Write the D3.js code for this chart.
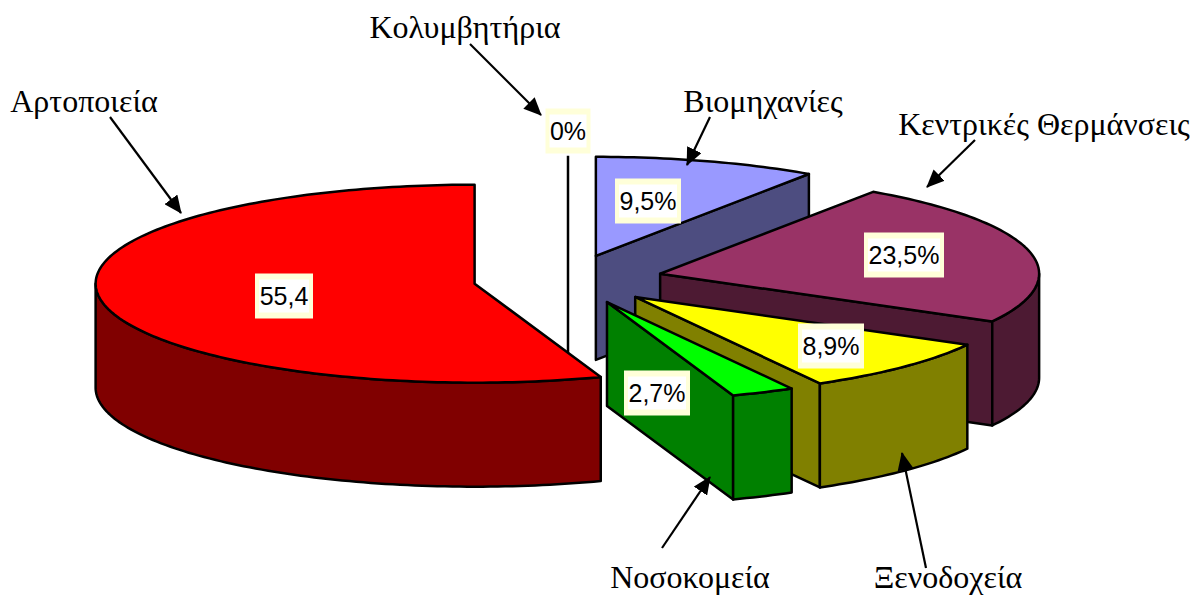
<!DOCTYPE html>
<html><head><meta charset="utf-8">
<script src="https://cdnjs.cloudflare.com/ajax/libs/d3/7.8.5/d3.min.js"></script>
<style>html,body{margin:0;padding:0;background:#fff}svg{display:block}</style>
</head><body><svg id="c" width="1200" height="595"></svg>
<script>
// Data, clockwise from 12 o'clock
const categories = ["Κολυμβητήρια","Βιομηχανίες","Κεντρικές Θερμάνσεις","Ξενοδοχεία","Νοσοκομεία","Αρτοποιεία"];
const values = [0, 9.5, 23.5, 8.9, 2.7, 55.4];
const valueLabels = ["0%","9,5%","23,5%","8,9%","2,7%","55,4"];
const topColors = ["#000000","#9999FF","#993366","#FFFF00","#00FF00","#FF0000"];
const sideColors = ["#000000","#4D4D80","#4D1A33","#808000","#008000","#800000"];

// Layout
const cx = 568, cy = 279.5, rx = 379, ry = 99, depth = 104, explode = 0.25;
const angleTotal = 99.8;
const labelBoxes = [[568,131,45],[648,201,66],[904,255,80],[831,346,66],[657,393,66],[284,296,58]];
const nameAnchors = [[465,38],[763,112],[1044,135],[948,587.5],[690,587.5],[84,112]];
const arrows = [[470,44,541,115],[710,117,687,165],[975,140,927,187],[926,568,902,453],[662,548,710,477],[110,117,181,213]];

const svg = d3.select("#c");
const defs = svg.append("defs");
defs.append("marker").attr("id","ah").attr("markerUnits","userSpaceOnUse")
  .attr("viewBox","0 0 18 16").attr("refX",17).attr("refY",8)
  .attr("markerWidth",18).attr("markerHeight",16).attr("orient","auto")
  .append("path").attr("d","M0,0L18,8L0,16Z").attr("fill","#000");

// The printed shares add up to 99.5; the last slice closes the circle, as in the original.
const sum = d3.sum(values);
const pie = d3.pie().sort(null).value(d => d).startAngle(0).endAngle(2*Math.PI*sum/angleTotal);
const arcs = pie(values);
arcs[arcs.length-1].endAngle = 2*Math.PI;
const sx = d3.scaleLinear().domain([-1,1]).range([-rx,rx]);
const sy = d3.scaleLinear().domain([-1,1]).range([-ry,ry]);
const line = d3.line();
const HALF = Math.PI/2;

function pt(a, ox, oy, dz=0){ return [ox + sx(Math.sin(a)), oy - sy(Math.cos(a)) + dz]; }
function arcPts(a0,a1,ox,oy,dz=0){
  const n = Math.max(2, Math.ceil(Math.abs(a1-a0)/0.02));
  return d3.range(n+1).map(i => pt(a0+(a1-a0)*i/n, ox, oy, dz));
}

const g = svg.append("g").attr("stroke","#000").attr("stroke-width",2.5).attr("stroke-linejoin","round");

arcs.forEach((d,i) => {
  const mid = (d.startAngle+d.endAngle)/2;
  const ox = cx + sx(Math.sin(mid))*explode;
  const oy = cy - sy(Math.cos(mid))*explode;
  const a0 = d.startAngle, a1 = d.endAngle;
  if (d.value === 0) {
    g.append("path").attr("d", line([pt(a0,ox,oy), [ox,oy+depth]])).attr("fill","none");
    return;
  }
  const apexTop = [ox,oy], apexBot = [ox,oy+depth];
  if (Math.sin(a1) > 1e-6) {
    g.append("path").attr("d", line([apexTop, pt(a1,ox,oy), pt(a1,ox,oy,depth), apexBot])+"Z").attr("fill",sideColors[i]);
  }
  if (Math.sin(a0) < -1e-6) {
    g.append("path").attr("d", line([apexTop, pt(a0,ox,oy), pt(a0,ox,oy,depth), apexBot])+"Z").attr("fill",sideColors[i]);
  }
  const v0 = Math.max(a0, HALF), v1 = Math.min(a1, 3*HALF);
  if (v1 > v0) {
    const up = arcPts(v0,v1,ox,oy), dn = arcPts(v1,v0,ox,oy,depth);
    g.append("path").attr("d", line(up.concat(dn))+"Z").attr("fill",sideColors[i]);
  }
  g.append("path").attr("d", line([apexTop].concat(arcPts(a0,a1,ox,oy)))+"Z").attr("fill",topColors[i]);
});

// Value labels
const lb = svg.append("g");
valueLabels.forEach((t,i) => {
  const [x,y,w] = labelBoxes[i];
  lb.append("rect").attr("x",x-w/2).attr("y",y-22.5).attr("width",w).attr("height",45).attr("fill","#FFFFD9");
  lb.append("rect").attr("x",x-w/2+4).attr("y",y-16.5).attr("width",w-8).attr("height",33).attr("fill","#fff");
  lb.append("text").attr("x",x).attr("y",y+8.5).attr("text-anchor","middle")
    .attr("font-family","'Liberation Sans',Arial,sans-serif").attr("font-size",25).attr("fill","#000").text(t);
});

// Category names and leader arrows
categories.forEach((t,i) => {
  const a = arrows[i];
  svg.append("line").attr("x1",a[0]).attr("y1",a[1]).attr("x2",a[2]).attr("y2",a[3])
    .attr("stroke","#000").attr("stroke-width",2.2).attr("marker-end","url(#ah)");
  svg.append("text").attr("x",nameAnchors[i][0]).attr("y",nameAnchors[i][1]).attr("text-anchor","middle")
    .attr("font-family","'Liberation Serif','Times New Roman',serif").attr("font-size",32).attr("fill","#000").text(t);
});
</script></body></html>
